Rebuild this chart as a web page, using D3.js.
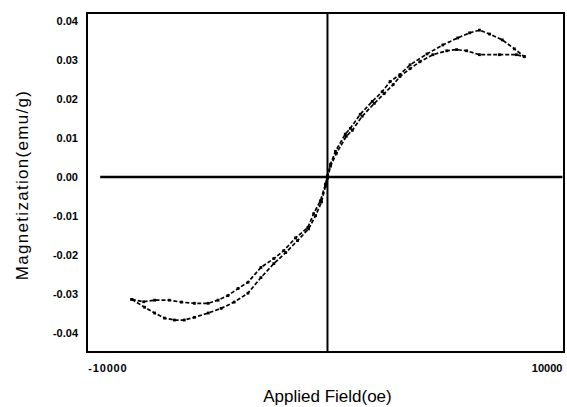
<!DOCTYPE html>
<html>
<head>
<meta charset="utf-8">
<script src="https://cdn.jsdelivr.net/npm/d3@7"></script>
<style>
  body { margin: 0; background: #fff; }
  text { font-family: Arial, "Liberation Sans", sans-serif; fill: #000; }
</style>
</head>
<body>
<div id="chart"></div>
<script>
const width = 567;
const height = 407;
const margin = { left: 87, right: 3, top: 13, bottom: 55 };

// applied field (oe) and magnetization (emu/g)
const fieldA = [-8910, -8370, -7870, -7200, -6650, -6060, -5430, -4980, -4530, -4070, -3620, -3030, -2440, -1990, -1450, -900, -630, -320, -90, 0, 140, 360, 810, 1040, 1490, 2040, 2490, 2850, 3300, 3760, 4530, 5250, 5930, 6470, 6920, 7380, 7960, 8510, 8960];
const magA = [-0.0314, -0.0320, -0.0316, -0.0316, -0.0321, -0.0324, -0.0324, -0.0316, -0.0304, -0.0286, -0.0270, -0.0232, -0.0209, -0.0189, -0.0156, -0.0130, -0.0094, -0.0061, -0.0018, 0.0003, 0.0033, 0.0066, 0.0110, 0.0125, 0.0161, 0.0194, 0.0219, 0.0245, 0.0263, 0.0288, 0.0316, 0.0339, 0.0357, 0.0370, 0.0377, 0.0367, 0.0352, 0.0329, 0.0309];
const fieldB = [-8910, -8330, -7870, -7420, -6970, -6520, -6060, -5430, -4840, -4250, -3620, -3030, -2440, -1900, -1360, -860, -540, -270, -90, 0, 140, 410, 860, 1130, 1580, 2130, 2580, 2990, 3300, 3760, 4210, 4800, 5430, 5880, 6340, 6920, 7830, 8600, 8960];
const magB = [-0.0314, -0.0334, -0.0349, -0.0362, -0.0367, -0.0367, -0.0360, -0.0349, -0.0337, -0.0321, -0.0298, -0.0258, -0.0222, -0.0194, -0.0163, -0.0133, -0.0099, -0.0064, -0.0023, -0.0003, 0.0028, 0.0061, 0.0105, 0.0120, 0.0156, 0.0189, 0.0214, 0.0237, 0.0258, 0.0278, 0.0296, 0.0314, 0.0324, 0.0327, 0.0324, 0.0314, 0.0314, 0.0314, 0.0309];

const yTicks = [0.04, 0.03, 0.02, 0.01, 0.00, -0.01, -0.02, -0.03, -0.04];
const xTicks = [-10000, 10000];
const xTickLabels = ['-10000', '10000'];

const svg = d3.select('#chart')
  .append('svg')
    .attr('width', width)
    .attr('height', height);

const x = d3.scaleLinear()
  .domain([-10950, 10770])
  .range([margin.left, width - margin.right]);
const y = d3.scaleLinear()
  .domain([-0.0449, 0.0421])
  .range([height - margin.bottom, margin.top]);

// frame
svg.append('rect')
  .attr('x', x.range()[0])
  .attr('y', y.range()[1])
  .attr('width', x.range()[1] - x.range()[0])
  .attr('height', y.range()[0] - y.range()[1])
  .style('fill', 'none')
  .style('stroke', '#000')
  .style('stroke-width', 2);

// zero lines
svg.append('line')
  .attr('x1', x(-10350)).attr('x2', x(10700))
  .attr('y1', y(0)).attr('y2', y(0))
  .style('stroke', '#000')
  .style('stroke-width', 2.5);
svg.append('line')
  .attr('x1', x(0)).attr('x2', x(0))
  .attr('y1', y.range()[1]).attr('y2', y.range()[0])
  .style('stroke', '#000')
  .style('stroke-width', 2);

// y tick labels
svg.append('g')
  .selectAll('text')
  .data(yTicks)
  .join('text')
    .attr('x', 78)
    .attr('y', d => y(d))
    .attr('dy', '0.38em')
    .attr('text-anchor', 'end')
    .style('font-size', '11px')
    .style('font-weight', 'bold')
    .text(d => d.toFixed(2));

// x tick labels
svg.append('g')
  .selectAll('text')
  .data(xTicks)
  .join('text')
    .attr('x', d => x(d))
    .attr('y', 372)
    .attr('text-anchor', 'middle')
    .style('font-size', '11px')
    .style('font-weight', 'bold')
    .style('letter-spacing', (d, i) => i == 0 ? '0.8px' : '0px')
    .text((d, i) => xTickLabels[i]);

// axis titles
svg.append('text')
  .attr('x', x(0))
  .attr('y', 402)
  .attr('text-anchor', 'middle')
  .style('font-size', '17px')
  .text('Applied Field(oe)');
svg.append('text')
  .attr('transform', 'translate(28,185) rotate(-90)')
  .attr('text-anchor', 'middle')
  .style('font-size', '17px')
  .style('letter-spacing', '1.3px')
  .text('Magnetization(emu/g)');

// the two branches of the loop
const line = d3.line()
  .x(d => x(d[0]))
  .y(d => y(d[1]));

[[fieldA, magA], [fieldB, magB]].forEach(([f, m]) => {
  const pts = f.map((d, i) => [d, m[i]]);
  svg.append('path')
    .datum(pts)
    .attr('d', line)
    .style('fill', 'none')
    .style('stroke', '#000')
    .style('stroke-width', 1.7)
    .style('stroke-dasharray', '4,2');
  svg.append('g')
    .selectAll('rect')
    .data(pts)
    .join('rect')
      .attr('x', d => x(d[0]) - 1.4)
      .attr('y', d => y(d[1]) - 1.4)
      .attr('width', 2.8)
      .attr('height', 2.8)
      .style('fill', '#000');
});
</script>
</body>
</html>
